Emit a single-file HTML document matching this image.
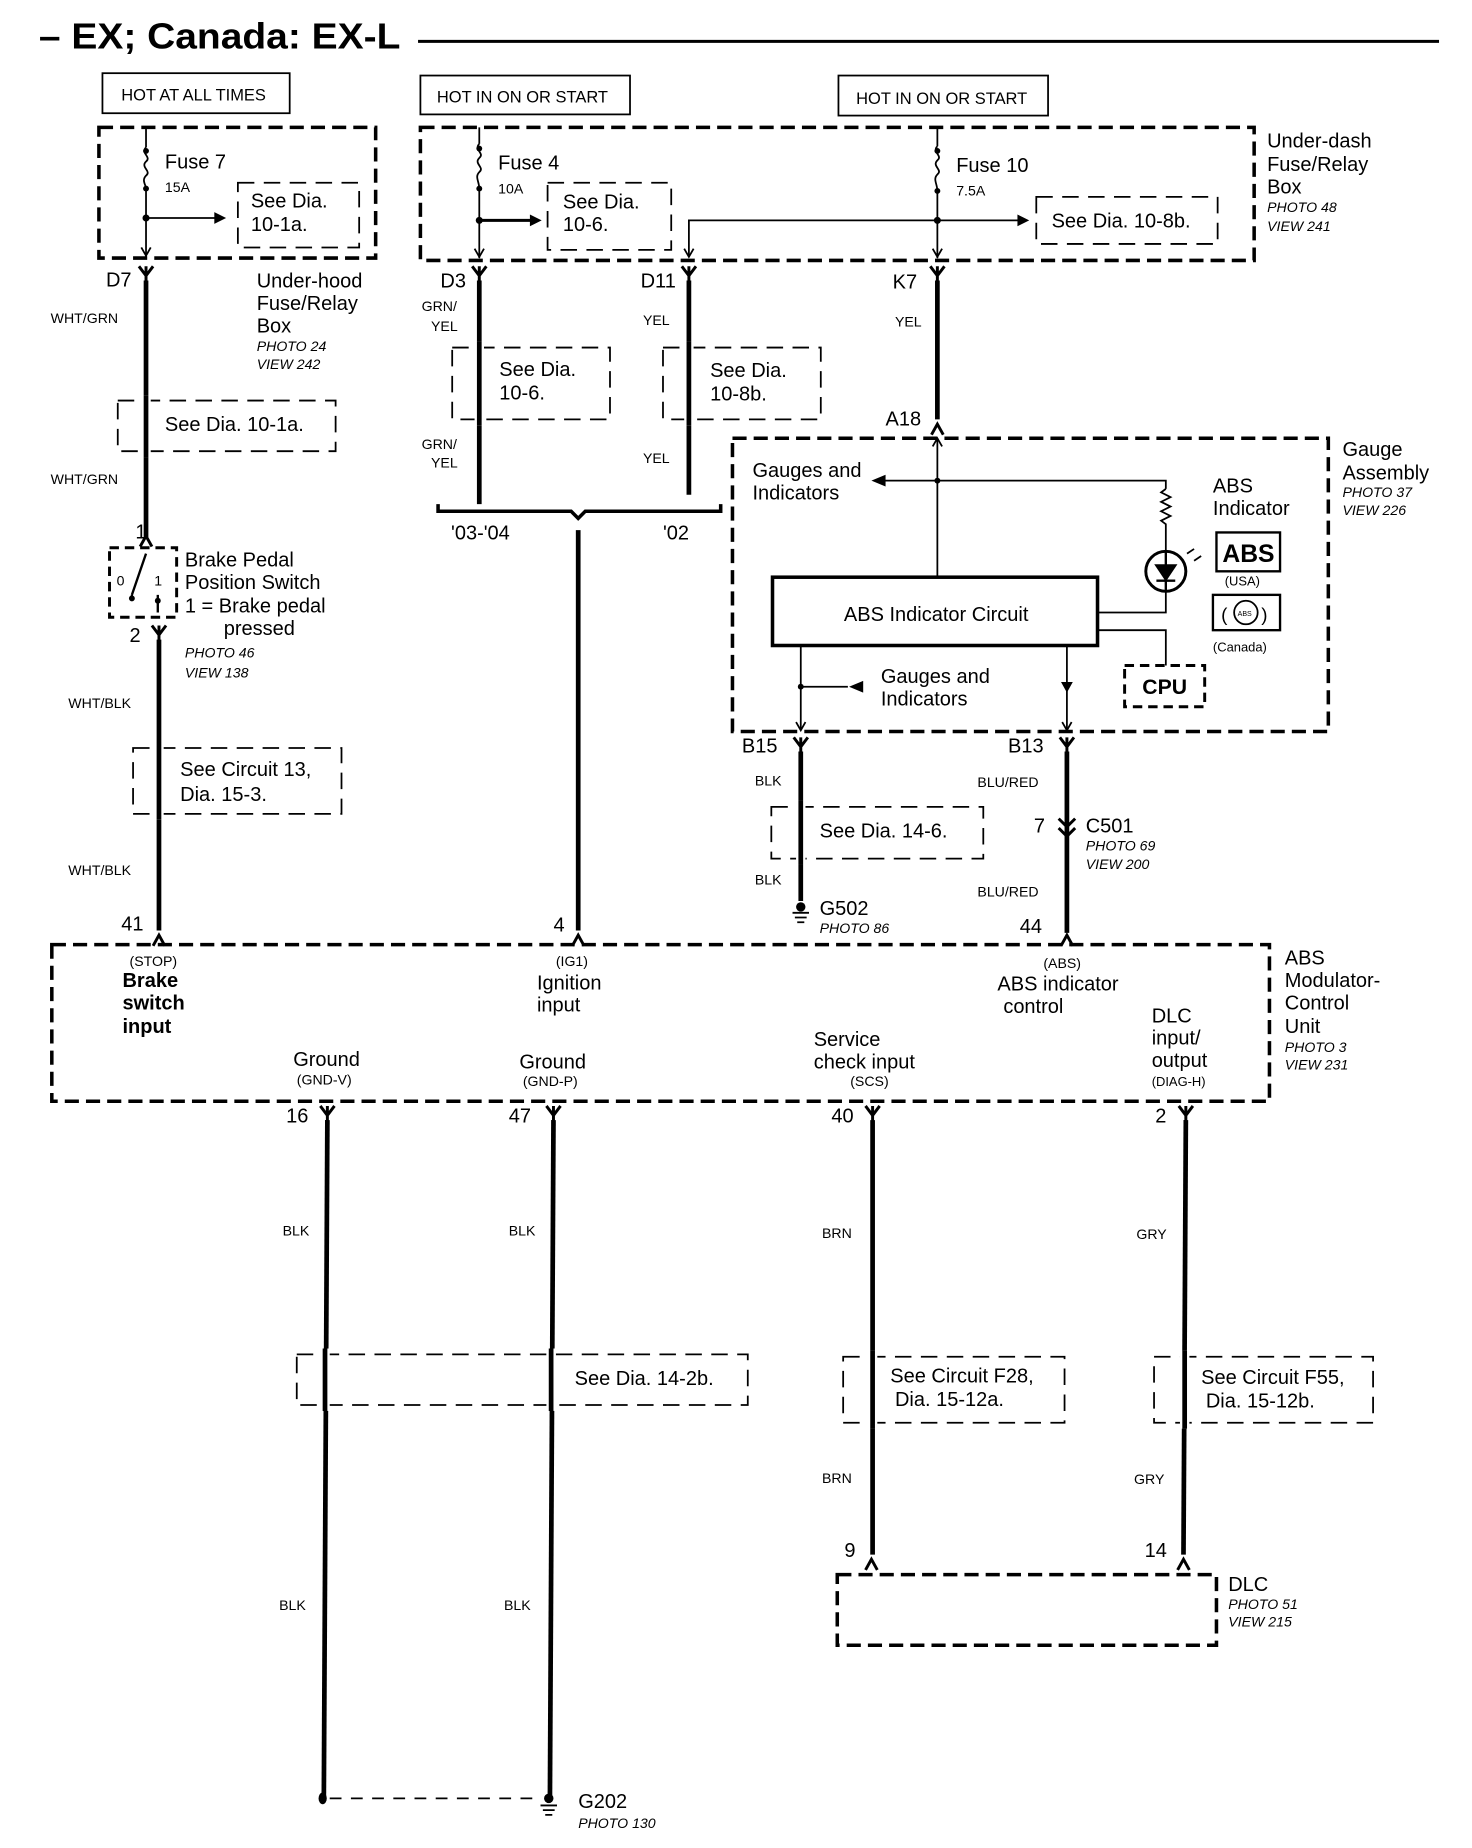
<!DOCTYPE html>
<html><head><meta charset="utf-8"><style>
html,body{margin:0;padding:0;background:#fff;width:1472px;height:1848px;overflow:hidden}
svg{display:block}
text{font-family:"Liberation Sans",Arial,sans-serif;fill:#000}
.b{font-size:17px}
.s{font-size:12px}
.i{font-size:12px;font-style:italic}
.w{stroke:#000;stroke-width:4;fill:none}
.t{stroke:#000;stroke-width:1.5;fill:none}
.d{stroke:#000;stroke-width:3;fill:none;stroke-dasharray:12 6}
.dt{stroke:#000;stroke-width:1.5;fill:none;stroke-dasharray:14 8}
</style></head><body>
<svg width="1472" height="1848" viewBox="0 0 1250 1569" xmlns="http://www.w3.org/2000/svg">
<defs>
<path id="fy" d="M-6,-6 L0,2 L6,-6 M0,-6 L0,8" stroke="#000" stroke-width="2.5" fill="none"/>
<path id="my" d="M-5,6 L0,-3 L5,6" stroke="#000" stroke-width="2.5" fill="none"/>
<path id="ad" d="M-4,-7 L0,0 L4,-7" stroke="#000" stroke-width="1.5" fill="none"/>
</defs>
<!-- title -->
<text x="33" y="41" style="font-size:31px;font-weight:bold" textLength="307" lengthAdjust="spacingAndGlyphs">– EX; Canada: EX-L</text>
<line x1="355" y1="35" x2="1222" y2="35" stroke="#000" stroke-width="2.5"/>

<!-- hot boxes -->
<rect x="87" y="62" width="159" height="34" class="t"/><text x="103" y="85" style="font-size:14px">HOT AT ALL TIMES</text>
<rect x="357" y="64" width="178" height="33" class="t"/><text x="371" y="87" style="font-size:14px">HOT IN ON OR START</text>
<rect x="712" y="64" width="178" height="34" class="t"/><text x="727" y="88" style="font-size:14px">HOT IN ON OR START</text>

<!-- fuse boxes -->
<rect x="84" y="108" width="235" height="111" class="d"/>
<rect x="357" y="108" width="708" height="113" class="d"/>
<!-- fuse 7 -->
<path d="M124,108 V125 M124,160 V219" class="t"/>
<path d="M124,125 c-5,5 5,8 0,12 c-5,5 5,8 0,12 c-4,4 0,8 0,11" class="t"/>
<circle cx="124" cy="128" r="2.5"/><circle cx="124" cy="160" r="2.5"/><circle cx="124" cy="185" r="3"/>
<use href="#ad" x="124" y="217"/>
<text x="140" y="143" class="b">Fuse 7</text><text x="140" y="163" class="s">15A</text>
<path d="M124,185 H184" class="t"/><path d="M182,180 L192,185 L182,190 Z"/>
<rect x="202" y="155" width="103" height="55" class="dt"/>
<text x="213" y="176" class="b">See Dia.</text><text x="213" y="196" class="b">10-1a.</text>
<!-- fuse 4 -->
<path d="M407,108 V122 M407,160 V219" class="t"/>
<path d="M407,122 c-5,5 5,8 0,12 c-5,5 5,8 0,12 c-4,4 0,8 0,14" class="t"/>
<circle cx="407" cy="126" r="2.5"/><circle cx="407" cy="160" r="2.5"/><circle cx="407" cy="187" r="3"/>
<use href="#ad" x="407" y="218"/>
<text x="423" y="144" class="b">Fuse 4</text><text x="423" y="164" class="s">10A</text>
<path d="M407,187 H452" class="w" style="stroke-width:2.5"/><path d="M450,182 L460,187 L450,192 Z"/>
<rect x="465" y="155" width="105" height="57" class="dt"/>
<text x="478" y="177" class="b">See Dia.</text><text x="478" y="196" class="b">10-6.</text>
<!-- fuse 10 -->
<path d="M796,108 V124 M796,162 V219" class="t"/>
<path d="M796,124 c-5,5 5,8 0,12 c-5,5 5,8 0,12 c-4,4 0,8 0,14" class="t"/>
<circle cx="796" cy="128" r="2.5"/><circle cx="796" cy="162" r="2.5"/><circle cx="796" cy="187" r="3"/>
<use href="#ad" x="796" y="218"/>
<text x="812" y="146" class="b">Fuse 10</text><text x="812" y="166" class="s">7.5A</text>
<path d="M585,218 V187 H866" class="t"/><path d="M864,182 L874,187 L864,192 Z"/>
<use href="#ad" x="585" y="218"/>
<rect x="880" y="167" width="154" height="40" class="dt"/>
<text x="893" y="193" class="b">See Dia. 10-8b.</text>
<text x="1076" y="125" class="b">Under-dash</text><text x="1076" y="145" class="b">Fuse/Relay</text><text x="1076" y="164" class="b">Box</text>
<text x="1076" y="180" class="i">PHOTO 48</text><text x="1076" y="196" class="i">VIEW 241</text>

<!-- left circuit -->
<use href="#fy" x="124" y="232"/>
<path d="M124,238 V456" class="w"/>
<text x="90" y="243" class="b">D7</text>
<text x="43" y="274" class="s">WHT/GRN</text>
<text x="218" y="244" class="b">Under-hood</text><text x="218" y="263" class="b">Fuse/Relay</text><text x="218" y="282" class="b">Box</text>
<text x="218" y="298" class="i">PHOTO 24</text><text x="218" y="313" class="i">VIEW 242</text>
<rect x="100" y="340" width="185" height="43" class="dt"/>
<rect x="120" y="336" width="8" height="52" fill="#fff"/><path d="M124,336 V388" class="w"/>
<text x="140" y="366" class="b">See Dia. 10-1a.</text>
<text x="43" y="411" class="s">WHT/GRN</text>
<text x="115" y="457" class="b">1</text>
<use href="#my" x="124" y="458"/>
<rect x="93" y="465" width="57" height="59" class="d" style="stroke-width:2.5;stroke-dasharray:8 5"/>
<path d="M124,470 L112,505 M112,505 L112,510 M134,505 L134,520" class="t" style="stroke-width:2"/>
<circle cx="112" cy="508" r="2.5"/><circle cx="134" cy="510" r="2.5"/>
<text x="99" y="497" class="s">0</text><text x="131" y="497" class="s">1</text>
<text x="157" y="481" class="b">Brake Pedal</text><text x="157" y="500" class="b">Position Switch</text>
<text x="157" y="520" class="b">1 = Brake pedal</text><text x="190" y="539" class="b">pressed</text>
<text x="157" y="558" class="i">PHOTO 46</text><text x="157" y="575" class="i">VIEW 138</text>
<text x="110" y="545" class="b">2</text>
<use href="#fy" x="135" y="537"/>
<path d="M135,543 V790" class="w"/>
<text x="58" y="601" class="s">WHT/BLK</text>
<rect x="113" y="635" width="177" height="56" class="dt"/>
<rect x="131" y="630" width="8" height="66" fill="#fff"/><path d="M135,630 V696" class="w"/>
<text x="153" y="659" class="b">See Circuit 13,</text><text x="153" y="680" class="b">Dia. 15-3.</text>
<text x="58" y="743" class="s">WHT/BLK</text>
<text x="103" y="790" class="b">41</text>
<use href="#my" x="135" y="797"/>

<!-- fuse 4 circuits -->
<use href="#fy" x="407" y="232"/><path d="M407,238 V428" class="w"/>
<text x="374" y="244" class="b">D3</text>
<text x="358" y="264" class="s">GRN/</text><text x="366" y="281" class="s">YEL</text>
<rect x="384" y="295" width="134" height="61" class="dt"/>
<rect x="403" y="290" width="8" height="71" fill="#fff"/><path d="M407,290 V361" class="w"/>
<text x="424" y="319" class="b">See Dia.</text><text x="424" y="339" class="b">10-6.</text>
<text x="358" y="381" class="s">GRN/</text><text x="366" y="397" class="s">YEL</text>
<use href="#fy" x="585" y="232"/><path d="M585,238 V420" class="w"/>
<text x="544" y="244" class="b">D11</text>
<text x="546" y="276" class="s">YEL</text>
<rect x="563" y="295" width="134" height="61" class="dt"/>
<rect x="581" y="290" width="8" height="71" fill="#fff"/><path d="M585,290 V361" class="w"/>
<text x="603" y="320" class="b">See Dia.</text><text x="603" y="340" class="b">10-8b.</text>
<text x="546" y="393" class="s">YEL</text>
<path d="M372,428 V434 H485 L491,440 L497,434 H612 V428" stroke="#000" stroke-width="3" fill="none"/>
<text x="383" y="458" class="b">'03-'04</text><text x="563" y="458" class="b">'02</text>
<path d="M491,450 V790" class="w"/>
<text x="470" y="791" class="b">4</text>
<use href="#my" x="491" y="797"/>

<!-- fuse 10 circuit -->
<use href="#fy" x="796" y="232"/><path d="M796,238 V356" class="w"/>
<text x="758" y="245" class="b">K7</text>
<text x="760" y="277" class="s">YEL</text>
<text x="752" y="361" class="b">A18</text>
<use href="#my" x="796" y="363"/>

<!-- gauge assembly -->
<rect x="622" y="372" width="506" height="249" class="d"/>
<text x="1140" y="387" class="b">Gauge</text><text x="1140" y="407" class="b">Assembly</text>
<text x="1140" y="422" class="i">PHOTO 37</text><text x="1140" y="437" class="i">VIEW 226</text>
<path d="M796,372 V490" class="t"/><use href="#ad" x="796" y="372" transform="rotate(180 796 372)"/>
<path d="M990,415 V408 H750" class="t"/><path d="M752,403 L740,408 L752,413 Z"/>
<circle cx="796" cy="408" r="2.5"/>
<text x="639" y="405" class="b">Gauges and</text><text x="639" y="424" class="b">Indicators</text>
<path d="M990,415 l-4,3 l8,4 l-8,4 l8,4 l-8,4 l8,4 l-8,4 l4,3 V520 H932" class="t"/>
<circle cx="990" cy="485" r="17" stroke="#000" stroke-width="2.5" fill="#fff"/>
<path d="M990,468 V502 M982,480 H998 L990,492 Z M982,493 H998" stroke="#000" stroke-width="2" fill="#000"/>
<path d="M1008,470 l6,-4 M1014,476 l6,-4" class="t"/>
<text x="1030" y="418" class="b">ABS</text><text x="1030" y="437" class="b">Indicator</text>
<rect x="1033" y="452" width="54" height="33" stroke="#000" stroke-width="2" fill="none"/>
<text x="1038" y="477" style="font-size:21px;font-weight:bold">ABS</text>
<text x="1040" y="497" style="font-size:11px">(USA)</text>
<rect x="1030" y="505" width="57" height="30" stroke="#000" stroke-width="2" fill="none"/>
<circle cx="1058" cy="520" r="10" class="t"/>
<text x="1051" y="523" style="font-size:6px">ABS</text>
<text x="1037" y="527" style="font-size:16px">(</text><text x="1071" y="527" style="font-size:16px">)</text>
<text x="1030" y="553" style="font-size:11px">(Canada)</text>
<rect x="656" y="490" width="276" height="58" stroke="#000" stroke-width="3" fill="none"/>
<text x="795" y="527" class="b" text-anchor="middle">ABS Indicator Circuit</text>
<path d="M932,535 H990 V565" class="t"/>
<rect x="955" y="565" width="68" height="35" class="d" style="stroke-width:2.5;stroke-dasharray:8 5"/>
<text x="970" y="589" style="font-size:18px;font-weight:bold">CPU</text>
<path d="M680,548 V620 M680,583 H720" class="t"/><circle cx="680" cy="583" r="2.5"/>
<path d="M733,578 L721,583 L733,588 Z"/>
<use href="#ad" x="680" y="620"/>
<text x="748" y="580" class="b">Gauges and</text><text x="748" y="599" class="b">Indicators</text>
<path d="M906,548 V620" class="t"/><path d="M901,579 H911 L906,588 Z M901,589 H911"/>
<use href="#ad" x="906" y="620"/>

<use href="#fy" x="680" y="632"/><path d="M680,638 V765" class="w"/>
<text x="630" y="639" class="b">B15</text>
<text x="641" y="667" class="s">BLK</text>
<rect x="655" y="685" width="180" height="44" class="dt"/>
<rect x="676" y="680" width="8" height="54" fill="#fff"/><path d="M680,680 V734" class="w"/>
<text x="696" y="711" class="b">See Dia. 14-6.</text>
<text x="641" y="751" class="s">BLK</text>
<circle cx="680" cy="770" r="4"/><path d="M673,775 H687 M675,779 H685 M677,783 H683" class="t"/>
<text x="696" y="777" class="b">G502</text><text x="696" y="792" class="i">PHOTO 86</text>
<use href="#fy" x="906" y="632"/><path d="M906,638 V792" class="w"/>
<text x="856" y="639" class="b">B13</text>
<text x="830" y="668" class="s">BLU/RED</text>
<path d="M899,695 L906,702 L913,695 M899,703 L906,710 L913,703" stroke="#000" stroke-width="2.5" fill="none"/>
<text x="878" y="707" class="b">7</text>
<text x="922" y="707" class="b">C501</text><text x="922" y="722" class="i">PHOTO 69</text><text x="922" y="738" class="i">VIEW 200</text>
<text x="830" y="761" class="s">BLU/RED</text>
<text x="866" y="792" class="b">44</text>
<use href="#my" x="906" y="797"/>

<!-- ABS modulator -->
<rect x="44" y="802" width="1034" height="133" class="d"/>
<text x="110" y="820" class="s">(STOP)</text>
<text x="104" y="838" class="b" font-weight="bold">Brake</text><text x="104" y="857" class="b" font-weight="bold">switch</text><text x="104" y="877" class="b" font-weight="bold">input</text>
<text x="472" y="820" class="s">(IG1)</text>
<text x="456" y="840" class="b">Ignition</text><text x="456" y="859" class="b">input</text>
<text x="886" y="822" class="s">(ABS)</text>
<text x="847" y="841" class="b">ABS indicator</text><text x="852" y="860" class="b">control</text>
<text x="978" y="868" class="b">DLC</text><text x="978" y="887" class="b">input/</text><text x="978" y="906" class="b">output</text><text x="978" y="922" style="font-size:11px">(DIAG-H)</text>
<text x="691" y="888" class="b">Service</text><text x="691" y="907" class="b">check input</text><text x="722" y="922" class="s">(SCS)</text>
<text x="249" y="905" class="b">Ground</text><text x="252" y="921" class="s">(GND-V)</text>
<text x="441" y="907" class="b">Ground</text><text x="444" y="922" class="s">(GND-P)</text>
<text x="1091" y="819" class="b">ABS</text><text x="1091" y="838" class="b">Modulator-</text><text x="1091" y="857" class="b">Control</text><text x="1091" y="877" class="b">Unit</text>
<text x="1091" y="893" class="i">PHOTO 3</text><text x="1091" y="908" class="i">VIEW 231</text>

<!-- bottom pins -->
<use href="#fy" x="278" y="945"/><path d="M278,951 L275,1525" class="w"/>
<text x="243" y="953" class="b">16</text>
<use href="#fy" x="470" y="945"/><path d="M470,951 L467,1525" class="w"/>
<text x="432" y="953" class="b">47</text>
<use href="#fy" x="741" y="945"/><path d="M741,951 V1320" class="w"/>
<text x="706" y="953" class="b">40</text>
<use href="#fy" x="1007" y="945"/><path d="M1007,951 L1005,1320" class="w"/>
<text x="981" y="953" class="b">2</text>
<text x="240" y="1049" class="s">BLK</text><text x="432" y="1049" class="s">BLK</text>
<text x="698" y="1051" class="s">BRN</text><text x="965" y="1052" class="s">GRY</text>
<rect x="252" y="1150" width="383" height="43" class="dt"/>
<rect x="272" y="1145" width="8" height="53" fill="#fff"/><path d="M276,1145 V1198" class="w"/>
<rect x="464" y="1145" width="8" height="53" fill="#fff"/><path d="M468,1145 V1198" class="w"/>
<text x="488" y="1176" class="b">See Dia. 14-2b.</text>
<rect x="716" y="1152" width="188" height="56" class="dt"/>
<rect x="737" y="1147" width="8" height="66" fill="#fff"/><path d="M741,1147 V1213" class="w"/>
<text x="756" y="1174" class="b">See Circuit F28,</text><text x="760" y="1194" class="b">Dia. 15-12a.</text>
<rect x="980" y="1152" width="186" height="56" class="dt"/>
<rect x="1002" y="1147" width="8" height="66" fill="#fff"/><path d="M1006,1147 V1213" class="w"/>
<text x="1020" y="1175" class="b">See Circuit F55,</text><text x="1024" y="1195" class="b">Dia. 15-12b.</text>
<text x="698" y="1259" class="s">BRN</text><text x="963" y="1260" class="s">GRY</text>
<text x="717" y="1322" class="b">9</text><text x="972" y="1322" class="b">14</text>
<use href="#my" x="740" y="1327"/><use href="#my" x="1005" y="1327"/>
<rect x="711" y="1337" width="322" height="60" class="d"/>
<text x="1043" y="1351" class="b">DLC</text><text x="1043" y="1366" class="i">PHOTO 51</text><text x="1043" y="1381" class="i">VIEW 215</text>
<text x="237" y="1367" class="s">BLK</text><text x="428" y="1367" class="s">BLK</text>
<ellipse cx="274" cy="1527" rx="3.5" ry="5"/>
<path d="M280,1527 H460" stroke="#000" stroke-width="1.5" stroke-dasharray="10 8"/>
<circle cx="466" cy="1527" r="4"/><path d="M459,1533 H473 M461,1537 H471 M463,1541 H469" class="t"/>
<text x="491" y="1535" class="b">G202</text><text x="491" y="1552" class="i">PHOTO 130</text>
</svg>
</body></html>
